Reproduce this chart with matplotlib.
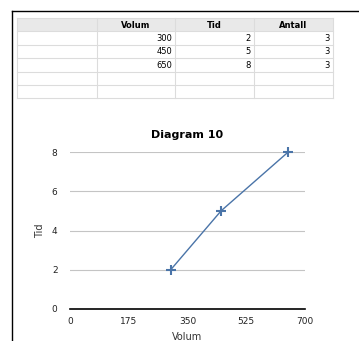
import matplotlib.pyplot as plt
from matplotlib.patches import Rectangle

# table data
headers = ['', 'Volum', 'Tid', 'Antall']
volum = [300, 450, 650]
tid = [2, 5, 8]
antall = [3, 3, 3]
n_empty_rows = 2

# chart data
x_ticks = [0, 175, 350, 525, 700]
y_ticks = [0, 2, 4, 6, 8]
line_color = '#4a74a8'

W, H = 359, 341
fig = plt.figure(figsize=(W / 100, H / 100), dpi=100)
fig.patch.set_facecolor('white')

# overlay axes in pixel coords (y from top) for the frame and table
bg = fig.add_axes([0, 0, 1, 1])
bg.set_xlim(0, W)
bg.set_ylim(H, 0)
bg.axis('off')

# frame lines of the sheet
bg.plot([12, 12], [11, H], color='black', lw=1.0)
bg.plot([12, W], [11, 11], color='black', lw=1.0)

# table
col_x = [17, 97, 175, 254, 333]
row_h = 13.4
top = 18
n_rows = 1 + len(volum) + n_empty_rows
grid_c = '#dcdcdc'
bg.add_patch(Rectangle((col_x[0], top), col_x[-1] - col_x[0], row_h,
                       facecolor='#e9e9e9', edgecolor='none'))
for i in range(n_rows + 1):
    y = top + i * row_h
    bg.plot([col_x[0], col_x[-1]], [y, y], color=grid_c, lw=0.8)
for x in col_x:
    bg.plot([x, x], [top, top + n_rows * row_h], color=grid_c, lw=0.8)

for j, h in enumerate(headers):
    if h:
        bg.text((col_x[j] + col_x[j + 1]) / 2, top + row_h / 2 + 0.5, h,
                ha='center', va='center', fontsize=6, fontweight='bold')
for i, row in enumerate(zip(volum, tid, antall)):
    y = top + (i + 1.5) * row_h + 0.5
    for j, v in enumerate(row):
        bg.text(col_x[j + 2] - 3, y, str(v), ha='right', va='center', fontsize=6)

# chart
ax = fig.add_axes([70 / W, 32 / H, 235 / W, 157 / H])
ax.plot(volum, tid, color=line_color, lw=1, marker='+', markersize=7,
        markeredgewidth=1.5, clip_on=False)
ax.set_xlim(0, 700)
ax.set_ylim(0, 8)
ax.set_xticks(x_ticks)
ax.set_yticks(y_ticks)
ax.grid(axis='y', color='#c4c4c4', lw=0.8)
ax.set_axisbelow(True)
for s in ['top', 'right', 'left']:
    ax.spines[s].set_visible(False)
ax.spines['bottom'].set_color('black')
ax.spines['bottom'].set_linewidth(1.2)
ax.tick_params(length=0, labelsize=6.5, colors='#222222')
ax.tick_params(axis='x', pad=6)
ax.tick_params(axis='y', pad=9)
ax.set_title('Diagram 10', fontsize=8, fontweight='bold', pad=10)
ax.set_xlabel('Volum', fontsize=7, color='#333333', labelpad=4)
ax.set_ylabel('Tid', fontsize=7, color='#333333', labelpad=5)

fig.savefig('out.png', dpi=100)
